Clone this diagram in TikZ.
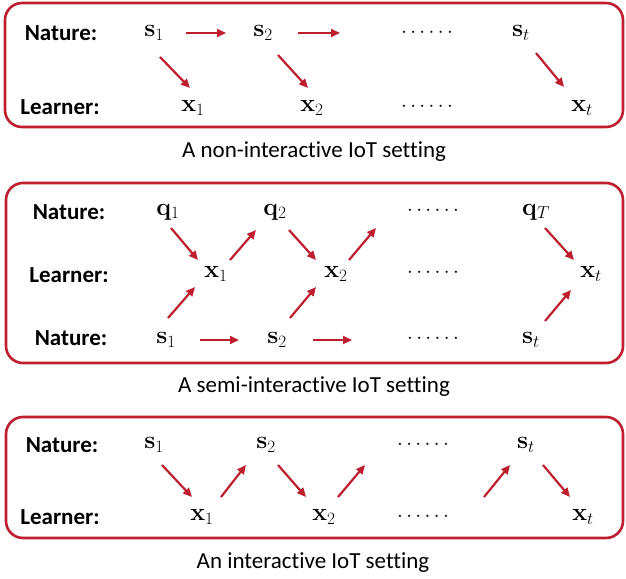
\documentclass[tikz,border=0pt]{standalone}
\usepackage[no-math]{fontspec}
\setmainfont[Ligatures=NoCommon]{Carlito}
\usetikzlibrary{calc,arrows.meta}
\definecolor{boxred}{RGB}{190,30,45}
\begin{document}
\begin{tikzpicture}[x=1pt,y=-1pt,
  lbl/.style={font=\fontsize{23}{27}\selectfont\bfseries, inner sep=0pt},
  var/.style={font=\fontsize{23}{27}\selectfont, inner sep=0pt},
  dotsnode/.style={font=\fontsize{19.5}{23}\selectfont, inner sep=0pt},
  captext/.style={font=\fontsize{23}{27}\selectfont, inner sep=0pt},
  panel/.style={draw=boxred, line width=2.6pt, rounded corners=17pt},
  arr/.style={draw=boxred, line width=2.2pt, -{Triangle[length=9pt,width=8pt]}}]
\useasboundingbox (0,0) rectangle (626,578);
% ---------------- panel 1
\draw[panel] (5,3) rectangle (623,127);
\node[lbl] (n1) at (61,33) {Nature:};
\node[lbl] (l1) at (60,107) {Learner:};
\node[var] (as1) at (154,33) {$\mathbf{s}_1$};
\node[var] (as2) at (263,33) {$\mathbf{s}_2$};
\node[dotsnode] (ads) at (427,33) {$\cdots\cdots$};
\node[var] (ast) at (521,33) {$\mathbf{s}_t$};
\node[var] (ax1) at (193,108) {$\mathbf{x}_1$};
\node[var] (ax2) at (312,108) {$\mathbf{x}_2$};
\node[dotsnode] (adx) at (427,107) {$\cdots\cdots$};
\node[var] (axt) at (582,108) {$\mathbf{x}_t$};
\draw[arr] ($(as1)+(32,0)$) -- ($(as2)+(-37,0)$);
\draw[arr] ($(as2)+(35,0)$) -- ($(as2)+(77,0)$);
\draw[arr] ($(as1)+(6,24)$) -- ($(ax1)+(-3,-20)$);
\draw[arr] ($(as2)+(15,22)$) -- ($(ax2)+(-4,-20)$);
\draw[arr] ($(ast)+(15,20)$) -- ($(axt)+(-18,-21)$);
\node[captext] (c1) at (314,152) {A non-interactive IoT setting};
% ---------------- panel 2
\draw[panel] (6,183) rectangle (623,363);
\node[lbl] (n2) at (69,212) {Nature:};
\node[lbl] (l2) at (69,275) {Learner:};
\node[lbl] (n2b) at (71,338) {Nature:};
\node[var] (bq1) at (168,212) {$\mathbf{q}_1$};
\node[var] (bq2) at (275,212) {$\mathbf{q}_2$};
\node[dotsnode] (bdq) at (433,211) {$\cdots\cdots$};
\node[var] (bqT) at (536,212) {$\mathbf{q}_T$};
\node[var] (bx1) at (216,274) {$\mathbf{x}_1$};
\node[var] (bx2) at (336,274) {$\mathbf{x}_2$};
\node[dotsnode] (bdx) at (433,273) {$\cdots\cdots$};
\node[var] (bxt) at (591,274) {$\mathbf{x}_t$};
\node[var] (bs1) at (166,340) {$\mathbf{s}_1$};
\node[var] (bs2) at (277,340) {$\mathbf{s}_2$};
\node[dotsnode] (bds) at (433,339) {$\cdots\cdots$};
\node[var] (bst) at (531,340) {$\mathbf{s}_t$};
\draw[arr] ($(bq1)+(3,16)$) -- ($(bx1)+(-18,-14)$);
\draw[arr] ($(bx1)+(14,-14)$) -- ($(bq2)+(-19,18)$);
\draw[arr] ($(bq2)+(14,18)$) -- ($(bx2)+(-20,-14)$);
\draw[arr] ($(bx2)+(13,-14)$) -- ($(bx2)+(40,-46)$);
\draw[arr] ($(bqT)+(9,16)$) -- ($(bxt)+(-17,-14)$);
\draw[arr] ($(bs1)+(2,-22)$) -- ($(bx1)+(-21,13)$);
\draw[arr] ($(bs2)+(13,-22)$) -- ($(bx2)+(-20,13)$);
\draw[arr] ($(bst)+(14,-19)$) -- ($(bxt)+(-20,16)$);
\draw[arr] ($(bs1)+(34,0)$) -- ($(bs2)+(-38,0)$);
\draw[arr] ($(bs2)+(36,0)$) -- ($(bs2)+(75,0)$);
\node[captext] (c2) at (314,387) {A semi-interactive IoT setting};
% ---------------- panel 3
\draw[panel] (6,417) rectangle (623,538);
\node[lbl] (n3) at (62,445) {Nature:};
\node[lbl] (l3) at (60,517) {Learner:};
\node[var] (cs1) at (154,445) {$\mathbf{s}_1$};
\node[var] (cs2) at (266,445) {$\mathbf{s}_2$};
\node[dotsnode] (cds) at (423,445) {$\cdots\cdots$};
\node[var] (cst) at (526,445) {$\mathbf{s}_t$};
\node[var] (cx1) at (202,517) {$\mathbf{x}_1$};
\node[var] (cx2) at (324,517) {$\mathbf{x}_2$};
\node[dotsnode] (cdx) at (423,517) {$\cdots\cdots$};
\node[var] (cxt) at (583,517) {$\mathbf{x}_t$};
\draw[arr] ($(cs1)+(8,20)$) -- ($(cx1)+(-10,-20)$);
\draw[arr] ($(cx1)+(19,-20)$) -- ($(cs2)+(-20,20)$);
\draw[arr] ($(cs2)+(12,20)$) -- ($(cx2)+(-18,-20)$);
\draw[arr] ($(cx2)+(14,-20)$) -- ($(cx2)+(41,-52)$);
\draw[arr] ($(cst)+(-42,52)$) -- ($(cst)+(-16,20)$);
\draw[arr] ($(cst)+(17,20)$) -- ($(cxt)+(-13,-20)$);
\node[captext] (c3) at (313,563) {An interactive IoT setting};
\end{tikzpicture}
\end{document}
